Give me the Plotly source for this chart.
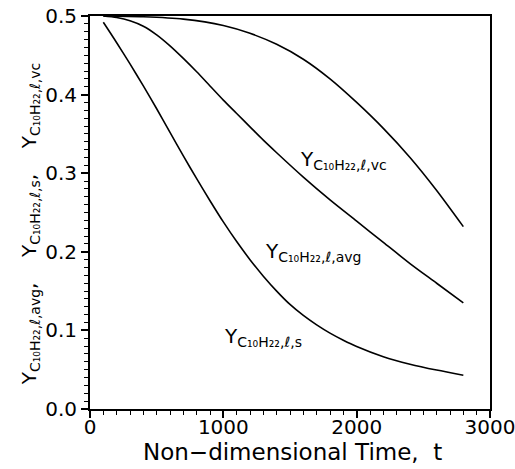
import plotly.graph_objects as go

# Data
t_s = [100, 200, 300, 400, 500, 600, 700, 800, 900, 1000, 1100, 1200, 1300, 1400, 1500, 1600, 1700, 1800, 1900,
       2000, 2200, 2400, 2600, 2800]
y_s = [0.492, 0.466, 0.439, 0.411, 0.382, 0.352, 0.322, 0.293, 0.265, 0.238, 0.213, 0.190, 0.169, 0.150, 0.133, 0.119,
       0.107, 0.0965, 0.0875, 0.0795, 0.0665, 0.057, 0.0495, 0.043]

t_avg = [100, 200, 300, 400, 500, 600, 700, 800, 900, 1000, 1100, 1200, 1300, 1400, 1600, 1800, 2000, 2200, 2400, 2600, 2800]
y_avg = [0.500, 0.498, 0.494, 0.487, 0.476, 0.462, 0.446, 0.429, 0.411, 0.393, 0.376, 0.359, 0.342, 0.326, 0.295,
         0.266, 0.239, 0.212, 0.185, 0.160, 0.135]

t_vc = [100, 400, 700, 1000, 1200, 1400, 1600, 1800, 2000, 2200, 2400, 2600, 2800]
y_vc = [0.500, 0.499, 0.496, 0.488, 0.478, 0.464, 0.445, 0.420, 0.390, 0.357, 0.320, 0.278, 0.232]

x_ticks = [0, 1000, 2000, 3000]
y_ticks = [0.0, 0.1, 0.2, 0.3, 0.4, 0.5]

sub = "C₁₀H₂₂,ℓ,"
labels = {
    "vc": ("Y<sub>" + sub + "vc</sub>", 1560, 0.317),
    "avg": ("Y<sub>" + sub + "avg</sub>", 1300, 0.200),
    "s": ("Y<sub>" + sub + "s</sub>", 990, 0.092),
}

FONT = "DejaVu Sans, Arial, sans-serif"

fig = go.Figure()
for t, y in [(t_s, y_s), (t_avg, y_avg), (t_vc, y_vc)]:
    fig.add_trace(go.Scatter(x=t, y=y, mode="lines",
                             line=dict(color="black", width=1.6, shape="spline", smoothing=0.8),
                             showlegend=False, hoverinfo="skip"))

for key, (txt, x, y) in labels.items():
    fig.add_annotation(x=x, y=y, xref="x", yref="y", text=txt, showarrow=False,
                       xanchor="left", yanchor="middle", font=dict(family=FONT, size=20, color="black"))

ytitle = ("Y<sub>" + sub + "avg</sub>,    Y<sub>" + sub + "s</sub>,    Y<sub>" + sub + "vc</sub>")
fig.add_annotation(x=-0.15, y=0.47, xref="paper", yref="paper", text=ytitle, textangle=-90,
                   showarrow=False, xanchor="center", yanchor="middle",
                   font=dict(family=FONT, size=20, color="black"))
fig.add_annotation(x=0.505, y=-0.109, xref="paper", yref="paper", text="Non−dimensional Time,  t",
                   showarrow=False, xanchor="center", yanchor="middle",
                   font=dict(family=FONT, size=23, color="black"))

axis_common = dict(showline=True, mirror=True, linecolor="black", linewidth=2, showgrid=False,
                   zeroline=False, ticks="outside", tickcolor="black", tickwidth=1.5, automargin=False,
                   tickfont=dict(family=FONT, size=20, color="black"))
fig.update_xaxes(range=[0, 3000], tickvals=x_ticks, ticklen=7, ticklabelstandoff=-8,
                 ticklabeloverflow="allow",
                 minor=dict(dtick=100, ticks="outside", ticklen=4, tickcolor="black", tickwidth=1.2),
                 **axis_common)
fig.update_yaxes(range=[0, 0.5], tickvals=y_ticks, tickformat=".1f", ticklen=7,
                 minor=dict(dtick=0.01, ticks="outside", ticklen=4, tickcolor="black", tickwidth=1.2),
                 **axis_common)

fig.update_layout(width=515, height=469, margin=dict(l=90, r=25, t=16, b=60),
                  plot_bgcolor="white", paper_bgcolor="white")
fig.write_html("out.html")
